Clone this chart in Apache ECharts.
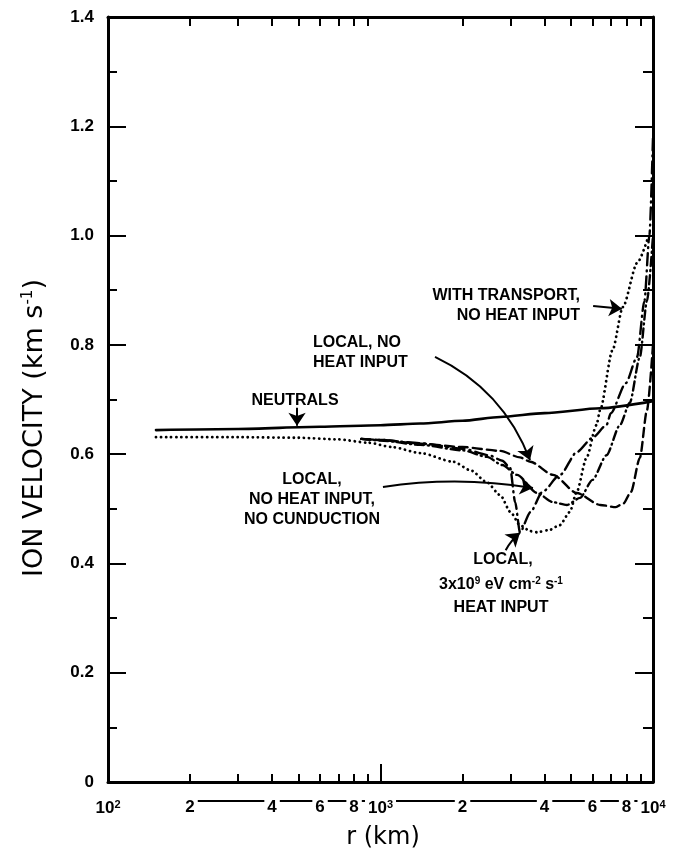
<!DOCTYPE html>
<html>
<head>
<meta charset="utf-8">
<script src="https://cdn.jsdelivr.net/npm/echarts@6/dist/echarts.min.js"></script>
<style>
  html, body { margin: 0; padding: 0; background: #fff; }
  #chart { width: 674px; height: 853px; }
</style>
</head>
<body>
<div id="chart"></div>
<script>
// Radial distance r (km) and ion / neutral velocity (km s^-1) for each model run
const neutralR = [150, 300, 600, 1000, 1400, 2000, 2750, 4000, 6400, 10000];
const neutralV = [0.644, 0.646, 0.650, 0.653, 0.656, 0.661, 0.668, 0.675, 0.684, 0.697];

const transportR = [150, 300, 500, 700, 900, 1100, 1400, 1850, 2150, 2450, 2750, 3000, 3250, 3550, 3750, 4150, 4550, 4950, 5250, 5700, 6200, 6400, 7100, 7750, 8750, 9600];
const transportV = [0.631, 0.631, 0.630, 0.627, 0.621, 0.613, 0.602, 0.586, 0.570, 0.549, 0.525, 0.494, 0.470, 0.459, 0.457, 0.461, 0.470, 0.494, 0.531, 0.593, 0.653, 0.681, 0.790, 0.869, 0.950, 0.997];

const localR = [850, 1000, 1400, 2000, 2750, 3250, 3550, 4300, 5250, 6400, 7300, 7800, 8300, 8950, 9500, 10000];
const localV = [0.628, 0.626, 0.619, 0.613, 0.606, 0.594, 0.586, 0.562, 0.529, 0.507, 0.503, 0.510, 0.531, 0.593, 0.680, 0.800];

const noCondR = [850, 1000, 1400, 2000, 2460, 2800, 3170, 3750, 4300, 4830, 5400, 6000, 6750, 7560, 8220, 8950, 9500, 10000];
const noCondV = [0.628, 0.625, 0.617, 0.607, 0.595, 0.580, 0.562, 0.529, 0.512, 0.507, 0.520, 0.553, 0.598, 0.653, 0.694, 0.778, 0.880, 1.000];

const heatR = [850, 1000, 1400, 2000, 2500, 2800, 2990, 3120, 3250, 3550, 3930, 4560, 5260, 6000, 6750, 7000, 7950, 8740, 9300, 9700, 10000];
const heatV = [0.628, 0.626, 0.620, 0.610, 0.598, 0.588, 0.575, 0.512, 0.457, 0.494, 0.531, 0.562, 0.604, 0.630, 0.653, 0.675, 0.730, 0.778, 0.880, 1.000, 1.180];

// Axis ticks
const xLabelValues = [100, 200, 400, 600, 800, 1000, 2000, 4000, 6000, 8000, 10000];
const xMinorTicks = [200, 300, 400, 500, 600, 700, 800, 900, 2000, 3000, 4000, 5000, 6000, 7000, 8000, 9000];
const xMajorTicks = [1000];
const yMin = 0, yMax = 1.4, yStep = 0.2;

// Arrows pointing from the annotations to the curves: [r0, v0, r1, v1, curveness]
const arrowNeutrals = [494, 0.685, 494, 0.652, 0];
const arrowLocal = [1585, 0.778, 3537, 0.589, 0.2];
const arrowNoCond = [1021, 0.540, 3628, 0.538, 0.08];
const arrowHeat = [2880, 0.424, 3250, 0.456, 0.1];
const arrowTransport = [6030, 0.871, 7690, 0.866, 0];

const pairs = (r, v) => r.map((x, i) => [x, v[i]]);

const ink = '#000';
const labelFont = 'Liberation Sans';

function curve(name, r, v, type, width) {
  return {
    name, type: 'line', data: pairs(r, v),
    xAxisIndex: 0, yAxisIndex: 0,
    showSymbol: false, symbol: 'none',
    smooth: 0.25, smoothMonotone: 'x',
    lineStyle: { color: ink, width: width || 2.4, type, cap: 'round' },
    silent: true, z: 3
  };
}

function xLabel(v) {
  const e = Math.floor(Math.log10(v) + 1e-9);
  const m = Math.round(v / Math.pow(10, e));
  return m === 1 ? '10{s|' + e + '}' : String(m);
}

const chart = echarts.init(document.getElementById('chart'), null, { renderer: 'canvas' });

const series = [
  curve('Neutrals', neutralR, neutralV, 'solid', 2.6),
  curve('With transport, no heat input', transportR, transportV, [0.1, 5], 2.8),
  curve('Local, no heat input', localR, localV, [9, 5], 2.4),
  curve('Local, no heat input, no conduction', noCondR, noCondV, [9, 4, 1, 4], 2.4),
  curve('Local, heat input', heatR, heatV, [12, 5, 1, 5], 2.4)
];

// annotation arrows
series.push({
  name: 'arrows', type: 'lines', coordinateSystem: 'cartesian2d',
  xAxisIndex: 0, yAxisIndex: 0,
  polyline: false, silent: true, z: 4,
  symbol: ['none', 'arrow'], symbolSize: [8, 13],
  lineStyle: { color: ink, width: 2, opacity: 1 },
  data: [arrowNeutrals, arrowLocal, arrowNoCond, arrowHeat, arrowTransport].map(a => ({
    coords: [[a[0], a[1]], [a[2], a[3]]],
    lineStyle: { curveness: a[4] }
  }))
});

const annotate = (text, x, y, align) => ({
  type: 'text', x, y, z: 10,
  style: {
    text, fill: ink, font: 'bold 16px "' + labelFont + '"',
    textAlign: align || 'left', textVerticalAlign: 'middle',
    rich: { s: { fontSize: 10, fontWeight: 'bold', fontFamily: labelFont, verticalAlign: 'top', padding: [0, 0, 8, 0] } }
  }
});

chart.setOption({
  animation: false,
  backgroundColor: '#fff',
  grid: { left: 108, right: 21, top: 17, bottom: 71, containLabel: false },
  xAxis: [
    {
      type: 'log', logBase: 10, min: 100, max: 10000, position: 'bottom', z: 5,
      axisLine: { show: true, lineStyle: { color: ink, width: 3 } },
      axisTick: { show: true, inside: true, length: 8, customValues: xMinorTicks, lineStyle: { color: ink, width: 2 } },
      axisLabel: {
        show: true, customValues: xLabelValues, margin: 17, color: ink,
        fontFamily: labelFont, fontWeight: 'bold', fontSize: 17,
        backgroundColor: '#fff', padding: [0, 3],
        formatter: xLabel,
        rich: { s: { fontSize: 11, fontWeight: 'bold', fontFamily: labelFont, verticalAlign: 'top', padding: [0, 0, 8, 0], backgroundColor: '#fff' } }
      },
      splitLine: { show: false }, minorTick: { show: false }
    },
    {
      type: 'log', logBase: 10, min: 100, max: 10000, position: 'bottom', z: 4,
      axisLine: { show: false },
      axisTick: { show: true, inside: true, length: 18, customValues: xMajorTicks, lineStyle: { color: ink, width: 2 } },
      axisLabel: { show: false }, splitLine: { show: false }
    },
    {
      type: 'log', logBase: 10, min: 100, max: 10000, position: 'top', z: 5,
      axisLine: { show: true, lineStyle: { color: ink, width: 3 } },
      axisTick: { show: true, inside: true, length: 9, customValues: xMinorTicks, lineStyle: { color: ink, width: 2 } },
      axisLabel: { show: false }, splitLine: { show: false }
    }
  ],
  yAxis: [
    {
      type: 'value', min: yMin, max: yMax, interval: yStep, position: 'left', z: 5,
      axisLine: { show: true, lineStyle: { color: ink, width: 3 } },
      axisTick: { show: true, inside: true, length: 18, lineStyle: { color: ink, width: 2 } },
      minorTick: { show: true, splitNumber: 2, length: 9, lineStyle: { color: ink, width: 2 } },
      axisLabel: {
        margin: 14, color: ink, fontFamily: labelFont, fontWeight: 'bold', fontSize: 17,
        formatter: v => (v === 0 ? '0' : v.toFixed(1))
      },
      splitLine: { show: false }
    },
    {
      type: 'value', min: yMin, max: yMax, interval: yStep, position: 'right', z: 5,
      axisLine: { show: true, lineStyle: { color: ink, width: 3 } },
      axisTick: { show: true, inside: true, length: 18, lineStyle: { color: ink, width: 2 } },
      minorTick: { show: true, splitNumber: 2, length: 10, lineStyle: { color: ink, width: 2 } },
      axisLabel: { show: false }, splitLine: { show: false }
    }
  ],
  series,
  graphic: [
    // rule running behind the r tick labels
    { type: 'line', z: 0, shape: { x1: 196, y1: 801, x2: 652, y2: 801 }, style: { stroke: ink, lineWidth: 2 } },
    // axis titles
    {
      type: 'text', x: 35, y: 428, rotation: Math.PI / 2, z: 10,
      style: {
        text: 'ION VELOCITY (km s{s|-1})', fill: ink, font: '27px "DejaVu Sans"',
        textAlign: 'center', textVerticalAlign: 'middle',
        rich: { s: { fontSize: 15, fontFamily: 'DejaVu Sans', verticalAlign: 'top', padding: [0, 0, 13, 0] } }
      }
    },
    {
      type: 'text', x: 383, y: 838, z: 10,
      style: { text: 'r (km)', fill: ink, font: '24px "DejaVu Sans"', textAlign: 'center', textVerticalAlign: 'middle' }
    },
    // curve annotations
    annotate('NEUTRALS', 295, 401, 'center'),
    annotate('LOCAL, NO', 313, 343),
    annotate('HEAT INPUT', 313, 363),
    annotate('WITH TRANSPORT,', 580, 296, 'right'),
    annotate('NO HEAT INPUT', 580, 316, 'right'),
    annotate('LOCAL,', 312, 480, 'center'),
    annotate('NO HEAT INPUT,', 312, 500, 'center'),
    annotate('NO CUNDUCTION', 312, 520, 'center'),
    annotate('LOCAL,', 503, 560, 'center'),
    annotate('3x10{s|9} eV cm{s|-2} s{s|-1}', 501, 585, 'center'),
    annotate('HEAT INPUT', 501, 608, 'center')
  ]
});
</script>
</body>
</html>
